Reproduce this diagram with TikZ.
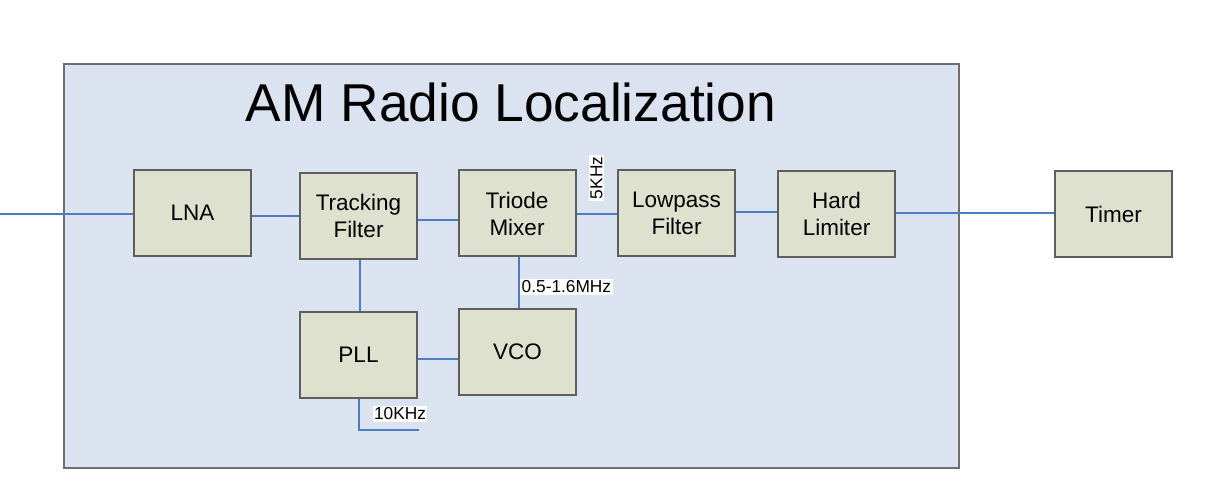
\documentclass[tikz,border=0pt]{standalone}
\usepackage{fontspec}
\setmainfont{Liberation Sans}
\definecolor{outerfill}{HTML}{DBE2F0}
\definecolor{outerline}{HTML}{6E6E6E}
\definecolor{boxfill}{HTML}{DEE1CE}
\definecolor{boxline}{HTML}{5E5E5E}
\definecolor{wireblue}{HTML}{4A7EC1}
\begin{document}
\begin{tikzpicture}[x=1pt,y=-1pt,
  blockbox/.style={draw=boxline,line width=2pt,fill=boxfill,minimum width=117pt,minimum height=86pt,
    align=center,inner sep=0pt,font=\fontsize{22.5}{27}\selectfont},
  wire/.style={draw=wireblue,line width=1.5pt},
  freqlabel/.style={fill=white,inner sep=1.5pt,font=\fontsize{17.3}{19}\selectfont}]
\useasboundingbox (0,0) rectangle (1232,502);
\node[draw=outerline,line width=2pt,fill=outerfill,minimum width=895pt,minimum height=404pt,inner sep=0pt] (outer) at (511.5,266) {};
\node[anchor=base,inner sep=0pt,font=\fontsize{53.3}{60}\selectfont] (title) at (511,122) {AM Radio Localization};
\node[blockbox] (LNA) at (192.5,213) {LNA};
\node[blockbox] (TF) at (358.5,216) {Tracking\\Filter};
\node[blockbox] (TM) at (517,213.5) {Triode\\Mixer};
\node[blockbox] (LP) at (676.5,213.5) {Lowpass\\Filter};
\node[blockbox] (HL) at (836.5,214) {Hard\\Limiter};
\node[blockbox] (Timer) at (1113.5,214.5) {Timer};
\node[blockbox] (PLL) at (358.5,355) {PLL};
\node[blockbox] (VCO) at (517.5,352) {VCO};
\coordinate (in) at (0,214);
\coordinate (refbend) at (359,430);
\coordinate (refend) at (419,430);
\draw[wire] (in) -- (in -| LNA.west);
\draw[wire] (LNA.east |- 0,216) -- (TF.west |- 0,216);
\draw[wire] (TF.east |- 0,220) -- (TM.west |- 0,220);
\draw[wire] (TM.east |- 0,214) -- (LP.west |- 0,214);
\node[freqlabel,rotate=90] (f5k) at (596.5,178) {5KHz};
\draw[wire] (LP.east |- 0,212) -- (HL.west |- 0,212);
\draw[wire] (HL.east |- 0,213) -- (Timer.west |- 0,213);
\draw[wire] (TF.south -| 360,0) -- (PLL.north -| 360,0);
\draw[wire] (TM.south -| 519,0) -- (VCO.north -| 519,0);
\node[freqlabel,anchor=west] (fmhz) at (520,287) {0.5-1.6MHz};
\draw[wire] (PLL.east |- 0,359) -- (VCO.west |- 0,359);
\draw[wire] (PLL.south -| refbend) -- (refbend) -- (refend);
\node[freqlabel] (f10k) at (400,414) {10KHz};
\end{tikzpicture}
\end{document}
